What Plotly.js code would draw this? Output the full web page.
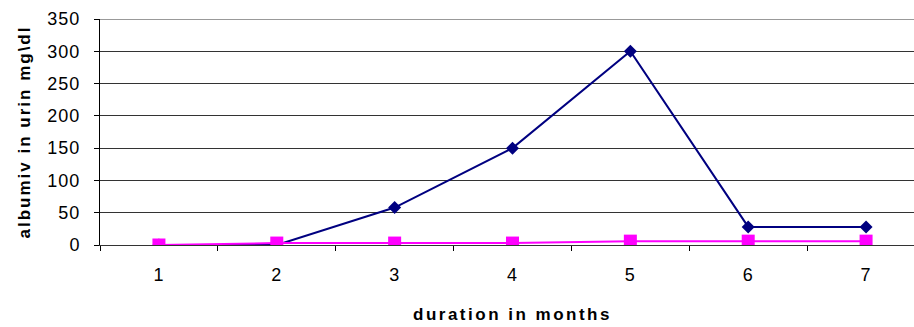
<!DOCTYPE html>
<html><head><meta charset="utf-8">
<script src="https://cdn.plot.ly/plotly-3.0.1.min.js"></script>
<style>
html,body{margin:0;padding:0;overflow:hidden;background:#fff;}
.xtitle{letter-spacing:2.5px;}
.ytitle{letter-spacing:2px;}
.xtick text,.ytick text{letter-spacing:1px;}
</style>
</head><body>
<div id="chart"></div>
<script>
const months = ["1","2","3","4","5","6","7"];
const seriesA = [0, 0, 58, 150, 300, 28, 28];
const seriesB = [0, 3, 3, 3, 6, 6, 6];
const yTicks = [0, 50, 100, 150, 200, 250, 300, 350];

const traces = [
  {x: months, y: seriesA, type: 'scatter', mode: 'lines+markers', name: 'A',
   line: {color: '#000080', width: 2}, marker: {symbol: 'diamond', size: 10, color: '#000080'}},
  {x: months, y: seriesB, type: 'scatter', mode: 'lines+markers', name: 'B',
   line: {color: '#FF00FF', width: 2}, marker: {symbol: 'square', size: 13, color: '#FF00FF'}}
];

const layout = {
  width: 930, height: 327,
  margin: {l: 100, r: 5, t: 19, b: 82},
  paper_bgcolor: '#fff', plot_bgcolor: '#fff',
  showlegend: false,
  font: {family: 'Arial, Liberation Sans, sans-serif', size: 18, color: '#000'},
  xaxis: {
    type: 'category', range: [-0.5, 6.5], tickson: 'boundaries',
    ticks: 'outside', ticklen: 5, tickcolor: '#000', showline: true, linecolor: '#333', linewidth: 1,
    showgrid: false, zeroline: false,
    tickfont: {size: 18}, ticklabelstandoff: 13,
    title: {text: 'duration in months', font: {size: 17, weight: 'bold'}, standoff: 24}
  },
  yaxis: {
    range: [0, 350], tickvals: yTicks, ticks: 'outside', ticklen: 5, tickcolor: '#000',
    showline: true, linecolor: '#000', linewidth: 1,
    showgrid: true, gridcolor: '#333', gridwidth: 1, zeroline: false,
    tickfont: {size: 18}, ticklabelstandoff: 10,
    title: {text: 'albumiv in urin mg\\dl', font: {size: 17, weight: 'bold'}, standoff: 12}
  },
  shapes: [
    {type: 'line', xref: 'paper', yref: 'y', x0: 0, x1: 1, y0: 350, y1: 350, line: {color: '#999', width: 2}}
  ]
};
Plotly.newPlot('chart', traces, layout, {displayModeBar: false, staticPlot: true});
</script>
</body></html>
